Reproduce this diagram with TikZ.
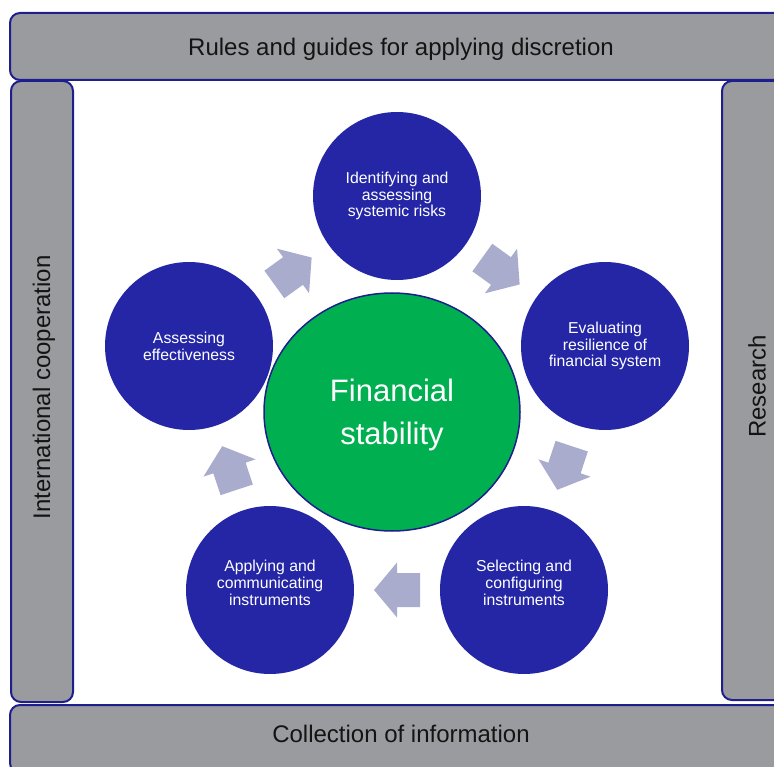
\documentclass[tikz,border=0pt]{standalone}
\usepackage{fontspec}
\setmainfont{Liberation Sans}
\usetikzlibrary{shapes.geometric}

\definecolor{bargray}{RGB}{154,155,159}
\definecolor{edgeblue}{RGB}{30,30,140}
\definecolor{stageblue}{RGB}{36,38,166}
\definecolor{coregreen}{RGB}{0,176,80}
\definecolor{arrowfill}{RGB}{170,172,206}
\definecolor{bartext}{RGB}{20,20,20}

\begin{document}
\begin{tikzpicture}[x=1pt,y=-1pt,
  band/.style={draw=edgeblue, line width=2pt, fill=bargray, rounded corners=10pt,
    inner sep=0pt},
  bandtext/.style={inner sep=0pt, text=bartext, font=\fontsize{24}{28}\selectfont},
  stage/.style={circle, fill=stageblue, minimum size=168pt, inner sep=0pt},
  stagetext/.style={text=white, align=center, inner sep=0pt,
    font=\fontsize{15.8}{16.8}\selectfont},
  core/.style={ellipse, fill=coregreen, draw=edgeblue, line width=1.5pt,
    minimum width=256pt, minimum height=238pt, inner sep=0pt},
  coretext/.style={text=white, align=center, inner sep=0pt,
    font=\fontsize{31}{43}\selectfont},
  blockarrow/.pic={\fill[arrowfill] (-23,-17) -- (0,-17) -- (0,-27.5) -- (23,0)
    -- (0,27.5) -- (0,17) -- (-23,17) -- cycle;},
  flow/.style={pos=0.5, sloped, allow upside down}
]
\useasboundingbox (0,0) rectangle (774,767);
\clip (0,0) rectangle (774,767);

% frame of supporting activities
\node[band, minimum width=782pt, minimum height=67pt,
  label={[bandtext, yshift=-3pt]center:Rules and guides for applying discretion}]
  (rules) at (401,46.5) {};
\node[band, rotate=90, minimum width=621pt, minimum height=62pt,
  label={[bandtext, rotate=90, xshift=4pt, yshift=-2pt]center:International cooperation}]
  (coop) at (42,391.5) {};
\node[band, rotate=90, minimum width=619pt, minimum height=70pt,
  label={[bandtext, rotate=90, xshift=4pt]center:Research}]
  (research) at (757,390.5) {};
\node[band, minimum width=782pt, minimum height=68pt,
  label={[bandtext, yshift=5pt]center:Collection of information}]
  (info) at (401,739) {};

% policy cycle
\node[stage, label={[stagetext]center:Identifying and\\assessing\\systemic risks}]
  (risks) at (397,196) {};
\node[stage, label={[stagetext]center:Evaluating\\resilience of\\financial system}]
  (resilience) at (605,346) {};
\node[stage, label={[stagetext, yshift=7pt]center:Selecting and\\configuring\\instruments}]
  (select) at (524,590) {};
\node[stage, label={[stagetext, yshift=7pt]center:Applying and\\communicating\\instruments}]
  (apply) at (270,590) {};
\node[stage, label={[stagetext]center:Assessing\\effectiveness}]
  (effect) at (189,346) {};

\node[core, label={[coretext, yshift=-3pt]center:Financial\\stability}]
  (stability) at (392,412) {};

% block arrows between the stages
\path (risks.center) -- (resilience.center) pic[flow] {blockarrow};
\path (resilience.center) -- (select.center) pic[flow] {blockarrow};
\path (select.center) -- (apply.center) pic[flow] {blockarrow};
\path (apply.center) -- (effect.center) pic[flow] {blockarrow};
\path (effect.center) -- (risks.center) pic[flow] {blockarrow};
\end{tikzpicture}
\end{document}
